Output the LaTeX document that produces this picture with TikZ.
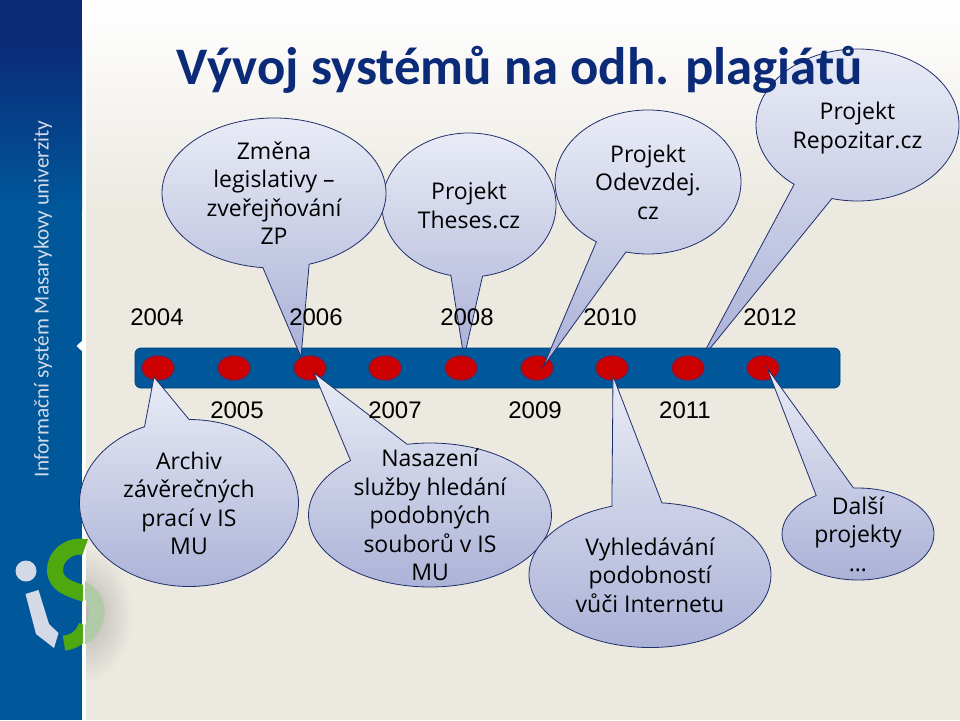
\documentclass[tikz,border=0pt]{standalone}
\usepackage{fontspec}
\setmainfont{Liberation Sans}
\newfontfamily\titlefont{Carlito}
\newfontfamily\bubblefont{Open Sans}
\usetikzlibrary{shapes.callouts,shapes.geometric}
\definecolor{paper}{HTML}{ECE9E1}
\definecolor{navy}{HTML}{0B2A78}
\definecolor{isblue}{HTML}{00589B}
\definecolor{barline}{HTML}{004070}
\definecolor{isgreen}{HTML}{4FA80F}
\definecolor{isgrey}{HTML}{D3DAE6}
\definecolor{edge}{HTML}{1F2F6B}
\definecolor{bubtop}{HTML}{E9ECF6}
\definecolor{bubbot}{HTML}{AAB0D6}
\definecolor{dotred}{HTML}{CC0000}
\definecolor{dotline}{HTML}{8C1432}
\newcommand\btext[1]{\smash{\raisebox{-9.5pt}{\begin{tabular}{@{}c@{}}#1\end{tabular}}}}
\tikzset{
  bubble/.style={ellipse callout, draw=edge, thick, top color=bubtop, bottom color=bubbot,
    inner sep=0pt, text=black, font=\bubblefont\fontsize{23}{28.5}\selectfont},
  dot/.style={ellipse, draw=dotline, line width=1.2pt, fill=dotred, minimum width=32pt, minimum height=24pt, inner sep=0pt},
  year/.style={font=\fontsize{24}{24}\selectfont, text=black}
}
\begin{document}
\begin{tikzpicture}[x=1pt,y=-1pt]
\useasboundingbox (0,0) rectangle (960,720);
% background and side panel
\shade[top color=white, bottom color=paper] (0,0) rectangle (960,210);
\fill[paper] (0,209) rectangle (960,720);
\begin{scope}
\clip (85,540) rectangle (140,690);
\shade[inner color=black!22!paper, outer color=paper] (85,615) ellipse (48 and 68);
\end{scope}
\fill[white] (82,0) rectangle (86,720);
\shade[top color=navy, bottom color=isblue] (0,40) rectangle (82,210);
\fill[navy] (0,0) rectangle (82,41);
\fill[isblue] (0,209) rectangle (82,720);
\fill[white] (76.5,346) -- (84,339) -- (84,353) -- cycle;
\node[rotate=90, text=isgrey, font=\titlefont\fontsize{21.3}{24}\selectfont] (side) at (43,299) {Informační systém Masarykovy univerzity};
% logo
\begin{scope}
\clip (85,560) rectangle (120,660);
\draw[line width=15pt, green!45!black!25!paper] (70,583) .. controls (90,589) and (98,600) .. (97,614) .. controls (96,630) and (84,640) .. (64,643);
\end{scope}
\begin{scope}
\clip (40,530) rectangle (83,660);
\draw[line width=16pt, isgreen] (87,547) .. controls (68,544) and (55,556) .. (55,570) .. controls (55,585) and (70,589) .. (85,594);
\draw[line width=15pt, isgreen] (86,626) .. controls (82,636) and (75,642) .. (64,643);
\end{scope}
\fill[isgreen] (80,539) -- (88,539) -- (83,553) -- (78,553) -- cycle;
\fill[isgrey] (26,571) circle (10.5);
\fill[isgrey] (25.5,594) -- (38.5,590) -- (49,624) -- (58.5,633) -- (54,648) -- (36,634) -- cycle;
% these two go under the bar
\coordinate (t2) at (464,358);
\coordinate (t4) at (699,362);
\node[bubble, minimum width=174pt, minimum height=144pt, callout absolute pointer=(t2), callout pointer arc=21] (theses) at (469,205) {\btext{Projekt\\Theses.cz}};
\node[bubble, minimum width=203pt, minimum height=152pt, callout absolute pointer=(t4), callout pointer arc=24] (repo) at (857.5,125) {\btext{Projekt\\Repozitar.cz}};
% timeline
\draw[draw=barline, thick, fill=isblue, rounded corners=6pt] (135,348) rectangle (840,388);
\foreach \i/\x in {1/158,2/234,3/310,4/385,5/461,6/537,7/612,8/688,9/763}
  \node[dot] (d\i) at (\x,368) {};
\coordinate (t1) at (301,357);
\coordinate (t3) at (543,367);
\coordinate (t5) at (154,377);
\coordinate (t6) at (314,373);
\coordinate (t7) at (613,376);
\coordinate (t8) at (767,368);
\node[bubble, minimum width=224pt, minimum height=150pt, callout absolute pointer=(t1), callout pointer arc=24] (zmena) at (274,193) {\btext{Změna\\legislativy –\\zveřejňování\\ZP}};
\node[bubble, minimum width=186pt, minimum height=144pt, callout absolute pointer=(t3), callout pointer arc=20] (odev) at (648,182) {\btext{Projekt\\Odevzdej.\\cz}};
\node[bubble, minimum width=219pt, minimum height=167pt, callout absolute pointer=(t5), callout pointer arc=24] (archiv) at (189,503) {\btext{Archiv\\závěrečných\\prací v IS\\MU}};
\node[bubble, minimum width=243pt, minimum height=144pt, callout absolute pointer=(t6), callout pointer arc=30] (nasazeni) at (430,515) {\btext{Nasazení\\služby hledání\\podobných\\souborů v IS\\MU}};
\node[bubble, minimum width=242pt, minimum height=145pt, callout absolute pointer=(t7), callout pointer arc=24] (vyhled) at (650,575) {\btext{Vyhledávání\\podobností\\vůči Internetu}};
\node[bubble, minimum width=152pt, minimum height=92pt, callout absolute pointer=(t8), callout pointer arc=30] (dalsi) at (858,534) {\btext{Další\\projekty\\…}};
% title and years on top
\node[text=navy, font=\titlefont\bfseries\fontsize{52.8}{53}\selectfont] (title) at (520,70) {Vývoj systémů na odh. plagiátů};
\foreach \n/\x in {2004/157,2006/316,2008/467,2010/610,2012/770}
  \node[year] (y\n) at (\x,317) {\n};
\foreach \n/\x in {2005/237,2007/395,2009/535,2011/685}
  \node[year] (y\n) at (\x,410) {\n};
\end{tikzpicture}
\end{document}
